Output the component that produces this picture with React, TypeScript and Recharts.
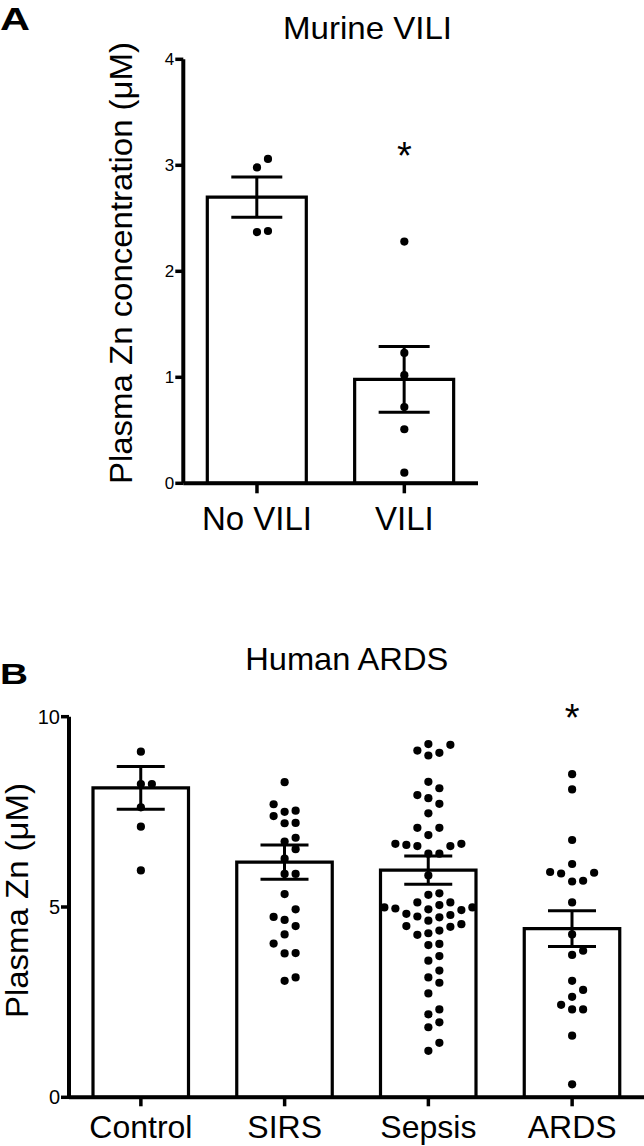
import React from 'react';
import {
  Bar,
  ComposedChart,
  ErrorBar,
  ReferenceDot,
  Scatter,
  XAxis,
  YAxis,
} from 'recharts';

// Panel A – murine VILI
const murineGroups = ['No VILI', 'VILI'];
const murineMeans = [2.7, 0.98];
const murineSem = [0.19, 0.31];
const murineNoVili = [3.06, 2.98, 2.37, 2.38];
const murineVili = [2.28, 1.23, 1.02, 0.72, 0.51, 0.1];
const murineStars = [{ group: 'VILI', value: 3.16 }];
const murineTicks = [0, 1, 2, 3, 4];

// Panel B – human ARDS
const humanGroups = ['Control', 'SIRS', 'Sepsis', 'ARDS'];
const humanMeans = [8.13, 6.18, 5.97, 4.43];
const humanSem = [0.56, 0.45, 0.37, 0.47];
const humanControl = [9.08, 8.23, 8.23, 7.62, 7.11, 5.96];
const humanSirs = [
  8.28, 7.7, 7.53, 7.5, 7.39, 7.21, 7.2, 6.82, 6.72, 6.52, 6.27, 5.87, 5.87,
  5.34, 4.94, 4.74, 4.66, 4.5, 4.28, 4.04, 3.79, 3.78, 3.15, 3.06,
];
const humanSepsis = [
  9.28, 9.26, 9.11, 9.05, 8.98, 8.29, 8.12, 7.94, 7.86, 7.71, 7.46, 7.08, 7.08,
  6.89, 6.66, 6.66, 6.63, 6.6, 6.6, 6.4, 6.4, 5.83, 5.36, 5.32, 5.12, 5.12,
  5.05, 4.99, 4.99, 4.96, 4.94, 4.92, 4.82, 4.79, 4.75, 4.73, 4.64, 4.55, 4.5,
  4.48, 4.38, 4.31, 4.27, 4.03, 4.0, 3.71, 3.59, 3.33, 3.15, 3.01, 2.73, 2.31,
  2.18, 1.97, 1.84, 1.43, 1.22,
];
const humanArds = [
  8.49, 8.09, 6.76, 6.13, 5.92, 5.9, 5.88, 5.69, 5.67, 5.12, 4.28, 3.85, 3.74,
  3.06, 2.82, 2.64, 2.43, 2.31, 2.31, 1.62, 0.34,
];
const humanStars = [{ group: 'ARDS', value: 10.18 }];
const humanTicks = [0, 5, 10];

const FONT = '"Liberation Sans", Arial, Helvetica, sans-serif';

// plot geometry (px)
const A = { top: 59.3, plotH: 424, yAxisW: 183.3, plotW: 294.7, h: 560, max: 4 };
const B = { top: 116.7, plotH: 380.6, yAxisW: 69, plotW: 575, h: 546, max: 10 };

// Prism-style scatter: place points low to high, pushing them sideways on a grid
function swarm(values: number[], pxPerUnit: number, step = 11, rowGap = 11) {
  const order = values.map((v, i) => ({ v, i })).sort((a, b) => a.v - b.v);
  const placed: { x: number; y: number }[] = [];
  const dx: number[] = values.map(() => 0);
  for (const { v, i } of order) {
    const y = v * pxPerUnit;
    for (let k = 0; k < 60; k++) {
      const cand = k === 0 ? 0 : (k % 2 === 1 ? 1 : -1) * Math.ceil(k / 2) * (step / 2);
      const hit = placed.some(
        (p) => Math.abs(p.y - y) < rowGap && Math.abs(p.x - cand) < step - 0.01,
      );
      if (!hit) {
        dx[i] = cand;
        placed.push({ x: cand, y });
        break;
      }
    }
  }
  return dx;
}

function buildDots(groups: string[], series: number[][], pxPerUnit: number) {
  return groups.flatMap((group, gi) => {
    const offs = swarm(series[gi], pxPerUnit);
    return series[gi].map((value, i) => ({ group, value, dx: offs[i] }));
  });
}

const murineBars = murineGroups.map((group, i) => ({
  group,
  mean: murineMeans[i],
  sem: murineSem[i],
}));
const humanBars = humanGroups.map((group, i) => ({
  group,
  mean: humanMeans[i],
  sem: humanSem[i],
}));
const murineDots = buildDots(murineGroups, [murineNoVili, murineVili], A.plotH / A.max);
const humanDots = buildDots(
  humanGroups,
  [humanControl, humanSirs, humanSepsis, humanArds],
  B.plotH / B.max,
);

const Dot = (props: any) => {
  if (props.cx == null || props.cy == null) return null;
  return <circle cx={props.cx + (props.payload?.dx ?? 0)} cy={props.cy} r={4.1} fill="#000" />;
};

const Star = (props: any) => {
  if (props.cx == null || props.cy == null) return null;
  return (
    <text
      x={props.cx}
      y={props.cy + 21}
      textAnchor="middle"
      fontSize={38}
      fontFamily={FONT}
      fill="#000"
    >
      *
    </text>
  );
};

interface PanelProps {
  bars: { group: string; mean: number; sem: number }[];
  dots: { group: string; value: number; dx: number }[];
  stars: { group: string; value: number }[];
  geo: typeof A;
  ticks: number[];
  tickFont: number;
  labelFont: number;
  barSize: number;
  capWidth: number;
  xTickSize: number;
  xTickMargin: number;
}

function Panel({
  bars,
  dots,
  stars,
  geo,
  ticks,
  tickFont,
  labelFont,
  barSize,
  capWidth,
  xTickSize,
  xTickMargin,
}: PanelProps) {
  const right = 644 - geo.yAxisW - geo.plotW;
  return (
    <ComposedChart
      width={644}
      height={geo.h}
      data={bars}
      margin={{ top: geo.top, right, bottom: 0, left: 0 }}
    >
      <XAxis
        dataKey="group"
        type="category"
        allowDuplicatedCategory={false}
        height={geo.h - geo.top - geo.plotH}
        axisLine={{ stroke: '#000', strokeWidth: 4 }}
        tickLine={{ stroke: '#000', strokeWidth: 3.5 }}
        tickSize={xTickSize}
        tickMargin={xTickMargin}
        tick={{ fill: '#000', fontSize: labelFont, fontFamily: FONT }}
        interval={0}
      />
      <YAxis
        type="number"
        domain={[0, geo.max]}
        ticks={ticks}
        width={geo.yAxisW}
        axisLine={{ stroke: '#000', strokeWidth: 4 }}
        tickLine={{ stroke: '#000', strokeWidth: 3.5 }}
        tickSize={8}
        tickMargin={1}
        tick={{ fill: '#000', fontSize: tickFont, fontFamily: FONT }}
        allowDataOverflow
      />
      <Bar
        dataKey="mean"
        fill="#fff"
        stroke="#000"
        strokeWidth={3.2}
        barSize={barSize}
        isAnimationActive={false}
      >
        <ErrorBar
          dataKey="sem"
          width={capWidth}
          stroke="#000"
          strokeWidth={3}
          direction="y"
          isAnimationActive={false}
        />
      </Bar>
      <Scatter data={dots} dataKey="value" shape={Dot} isAnimationActive={false} />
      {stars.map((s) => (
        <ReferenceDot
          key={s.group}
          x={s.group}
          y={s.value}
          r={1}
          ifOverflow="visible"
          shape={Star}
        />
      ))}
    </ComposedChart>
  );
}

export default function App() {
  return (
    <div
      style={{
        position: 'absolute',
        left: 0,
        top: 0,
        width: 644,
        height: 1146,
        background: '#fff',
        overflow: 'hidden',
      }}
    >
      <div style={{ position: 'absolute', left: 0, top: 0 }}>
        <Panel
          bars={murineBars}
          dots={murineDots}
          stars={murineStars}
          geo={A}
          ticks={murineTicks}
          tickFont={17}
          labelFont={33}
          barSize={99}
          capWidth={25.5}
          xTickSize={10}
          xTickMargin={13}
        />
      </div>
      <div style={{ position: 'absolute', left: 0, top: 600 }}>
        <Panel
          bars={humanBars}
          dots={humanDots}
          stars={humanStars}
          geo={B}
          ticks={humanTicks}
          tickFont={20}
          labelFont={32}
          barSize={95.5}
          capWidth={24}
          xTickSize={9}
          xTickMargin={9}
        />
      </div>
      <svg
        width={644}
        height={1146}
        style={{ position: 'absolute', left: 0, top: 0, pointerEvents: 'none' }}
        fontFamily={FONT}
        fill="#000"
      >
        <text x={0} y={30} fontSize={32} fontWeight="bold" textLength={30} lengthAdjust="spacingAndGlyphs">
          A
        </text>
        <text x={367.5} y={39} fontSize={32} textAnchor="middle" textLength={169} lengthAdjust="spacingAndGlyphs">
          Murine VILI
        </text>
        <text
          x={132}
          y={263}
          fontSize={32}
          textAnchor="middle"
          transform="rotate(-90 132 263)"
          textLength={442}
          lengthAdjust="spacingAndGlyphs"
        >
          Plasma Zn concentration (μM)
        </text>
        <text x={0} y={684} fontSize={30} fontWeight="bold" textLength={28} lengthAdjust="spacingAndGlyphs">
          B
        </text>
        <text x={346.7} y={670} fontSize={32} textAnchor="middle" textLength={203} lengthAdjust="spacingAndGlyphs">
          Human ARDS
        </text>
        <text
          x={28}
          y={900.5}
          fontSize={31}
          textAnchor="middle"
          transform="rotate(-90 28 900.5)"
          textLength={235}
          lengthAdjust="spacingAndGlyphs"
        >
          Plasma Zn (μM)
        </text>
      </svg>
    </div>
  );
}
